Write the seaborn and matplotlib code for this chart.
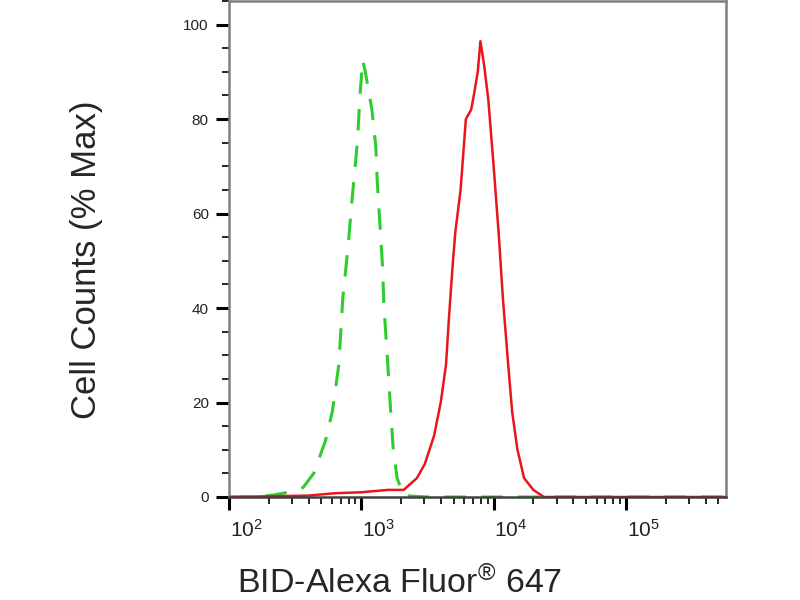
import numpy as np
import pandas as pd
import matplotlib
matplotlib.use("Agg")
import matplotlib.pyplot as plt
import matplotlib.transforms as mtransforms
from matplotlib.ticker import FixedLocator, LogFormatterSciNotation, NullFormatter, MultipleLocator
import seaborn as sns

# Isotype control (green, dashed)
ctrl_x = [100, 158, 214, 282, 363, 437, 537, 603, 676, 724, 794, 851, 933, 977, 1023,
          1072, 1202, 1288, 1318, 1380, 1445, 1479, 1585, 1660, 1738, 1862, 2089, 3162, 570000]
ctrl_y = [0, 0, 0.4, 1, 2, 5, 12, 18, 28, 42, 53, 63, 75, 85, 92.5,
          90, 82, 74, 67, 58, 49, 41, 28, 19, 10.5, 4, 0.3, 0, 0]

# BID antibody (red, solid)
bid_x = [100, 398, 631, 1000, 1585, 2089, 2630, 3020, 3548, 3981, 4365, 4571, 4898, 5129,
         5623, 6166, 6761, 7079, 7586, 7943, 8511, 9120, 10000, 10965, 11749, 12882, 13804,
         15136, 16982, 19953, 23988, 570000]
bid_y = [0, 0.3, 0.8, 1.0, 1.5, 1.5, 4, 7, 13, 20, 28, 37, 49, 56,
         65, 80, 82, 85, 90, 96.5, 91, 84, 70, 55, 42, 28, 18,
         10, 4, 1.5, 0, 0]

x_major = [1e2, 1e3, 1e4, 1e5]
y_major = [0, 20, 40, 60, 80, 100]

sns.set_style("ticks")
plt.rcParams['font.family'] = ['Liberation Sans', 'DejaVu Sans']
plt.rcParams['mathtext.fontset'] = 'custom'
plt.rcParams['mathtext.rm'] = 'Liberation Sans'
plt.rcParams['mathtext.it'] = 'Liberation Sans'

fig = plt.figure(figsize=(8, 6), dpi=100)
ax = fig.add_axes([229 / 800, 103 / 600, 497 / 800, 496 / 600])

ctrl = pd.DataFrame({"x": ctrl_x, "y": ctrl_y})
bid = pd.DataFrame({"x": bid_x, "y": bid_y})

sns.lineplot(data=ctrl, x="x", y="y", ax=ax, color="#2fcc2f", linewidth=2.2,
             estimator=None, sort=False)
ax.lines[-1].set_dashes([7, 5])
sns.lineplot(data=bid, x="x", y="y", ax=ax, color="#e8161b", linewidth=1.8,
             estimator=None, sort=False)

ax.set_xscale("log")
ax.set_xlim(100, 5.7e5)
ax.set_ylim(0, 105)
ax.set_xlabel("")
ax.set_ylabel("")

ax.xaxis.set_major_locator(FixedLocator(x_major))
ax.xaxis.set_major_formatter(LogFormatterSciNotation())
minor = [m * 10 ** e for e in range(2, 6) for m in range(2, 10)]
ax.xaxis.set_minor_locator(FixedLocator(minor))
ax.xaxis.set_minor_formatter(NullFormatter())
ax.yaxis.set_major_locator(FixedLocator(y_major))
ax.yaxis.set_minor_locator(MultipleLocator(5))

for sp in ax.spines.values():
    sp.set_color("#808080")
    sp.set_linewidth(1.8)
ax.spines["bottom"].set_color("#404040")

ax.tick_params(which="major", direction="out", length=9.5, width=2.2, color="black",
               labelcolor="#222222")
ax.tick_params(which="minor", direction="out", length=5, width=1.2, color="black")
ax.tick_params(axis="x", pad=6, labelsize=15)
ax.tick_params(axis="y", pad=5, labelsize=11)

offset = mtransforms.ScaledTranslation(17 / 100, 0, fig.dpi_scale_trans)
for lab in ax.get_xticklabels():
    lab.set_transform(lab.get_transform() + offset)

fig.text(0.5, 1 - 583 / 600, r"BID-Alexa Fluor$^{\circledR}$ 647", fontsize=24.5,
         ha="center", va="center")
fig.text(87 / 800, 1 - 260 / 600, "Cell Counts (% Max)", fontsize=25,
         rotation=90, ha="center", va="center")

fig.savefig("out.png", dpi=100)
